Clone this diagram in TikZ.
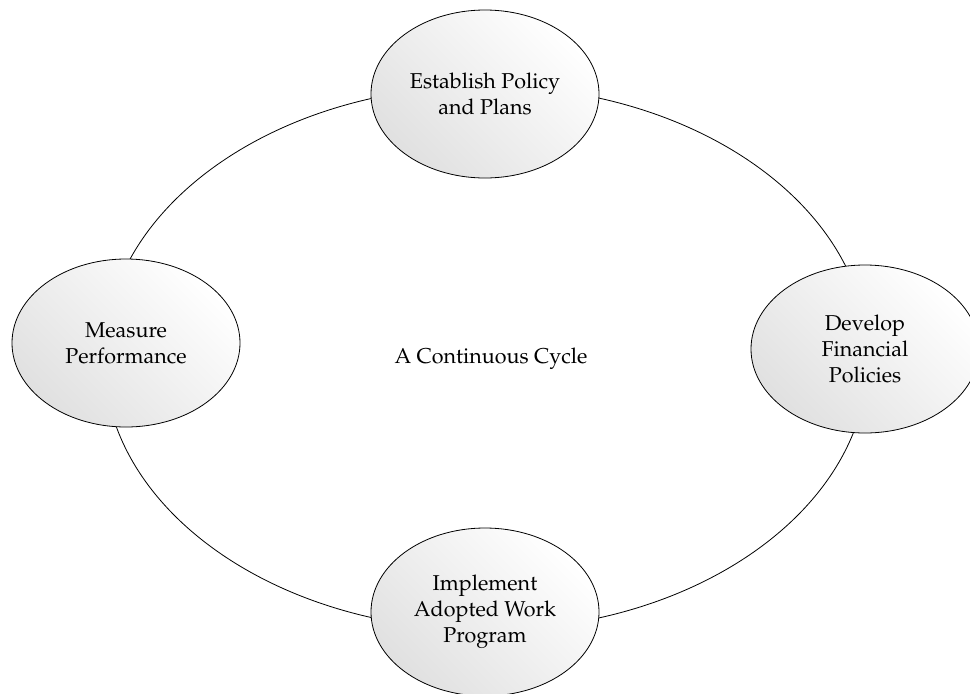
\documentclass[tikz,border=0pt]{standalone}
\usepackage[T1]{fontenc}
\renewcommand{\rmdefault}{ppl}
\usepackage{tikz}
\usetikzlibrary{shapes.geometric}
\tikzset{
  phase/.style={ellipse, draw=black, line width=0.8pt, inner sep=0pt,
    minimum width=228pt, minimum height=168pt, align=center,
    shading=axis, top color=white, bottom color=black!12, shading angle=-45,
    font=\fontsize{21.5}{26}\selectfont},
  cycleline/.style={draw=black, line width=0.8pt}
}
\begin{document}
\begin{tikzpicture}[x=1pt, y=-1pt]
		\useasboundingbox (0,0) rectangle (970,694);
		\clip (0,0) rectangle (970,694);
		\draw[cycleline] (486,358) ellipse [x radius=382, y radius=272];%the cycle
		\node[phase] (plans) at (485,94) {Establish Policy\\and Plans};
		\node[phase] (finance) at (865,349) {Develop\\Financial\\Policies};
		\node[phase] (program) at (485,612) {Implement\\Adopted Work\\Program};
		\node[phase] (measure) at (126,343) {Measure\\Performance};
		\node[font=\fontsize{21.5}{26}\selectfont] (cycle) at (491,359) {A Continuous Cycle};
		\end{tikzpicture}
\end{document}
